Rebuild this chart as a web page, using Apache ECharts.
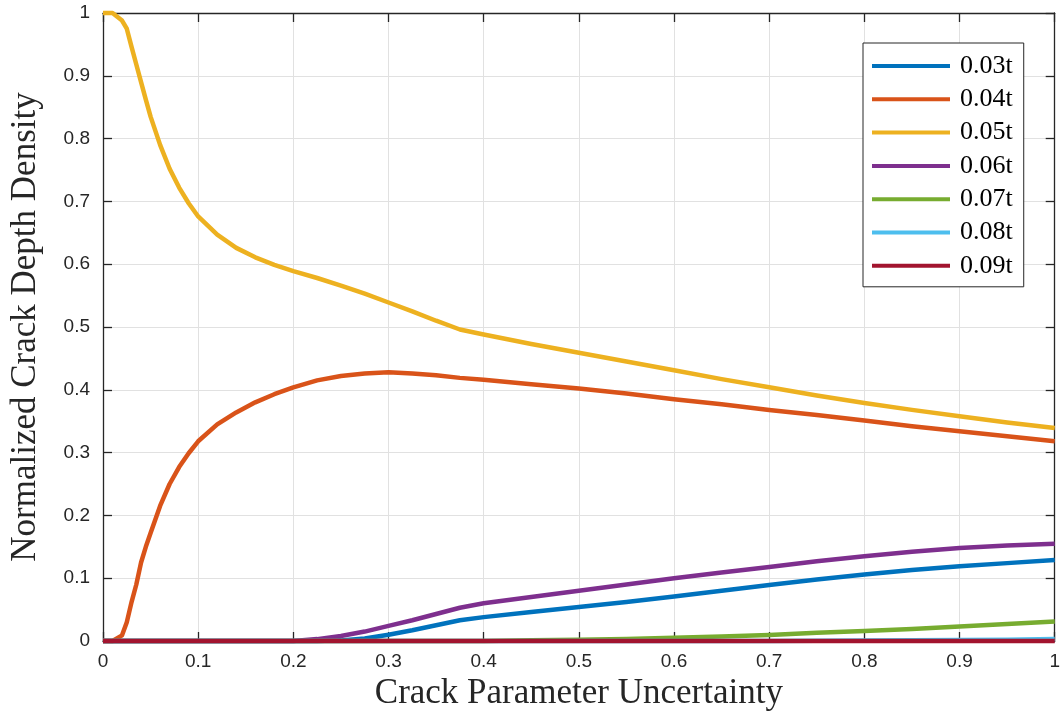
<!DOCTYPE html>
<html>
<head>
<meta charset="utf-8">
<script src="https://cdn.jsdelivr.net/npm/echarts@6/dist/echarts.min.js"></script>
<style>
  html, body { margin: 0; padding: 0; background: #ffffff; }
  #chart { width: 1063px; height: 723px; }
</style>
</head>
<body>
<div id="chart"></div>
<script>
// Crack parameter uncertainty (x) samples
const uncertainty = [0, 0.01, 0.02, 0.025, 0.03, 0.035, 0.04, 0.045, 0.05, 0.06, 0.07, 0.08, 0.09, 0.1,
  0.12, 0.14, 0.16, 0.18, 0.2, 0.225, 0.25, 0.275, 0.3, 0.325, 0.35, 0.375, 0.4, 0.45, 0.5,
  0.55, 0.6, 0.65, 0.7, 0.75, 0.8, 0.85, 0.9, 0.95, 1.0];

// Normalized crack depth density for each crack depth
const depth003 = [0, 0, 0, 0, 0, 0, 0, 0, 0, 0, 0, 0, 0, 0,
  0, 0, 0, 0, 0, 0, 0.001, 0.004, 0.01, 0.017, 0.025, 0.033, 0.038, 0.046, 0.054,
  0.062, 0.071, 0.08, 0.089, 0.098, 0.106, 0.113, 0.119, 0.124, 0.129];
const depth004 = [0, 0, 0.009, 0.03, 0.062, 0.09, 0.125, 0.15, 0.172, 0.215, 0.25, 0.277, 0.299, 0.318,
  0.345, 0.364, 0.38, 0.393, 0.404, 0.415, 0.422, 0.426, 0.428, 0.426, 0.423, 0.419, 0.416, 0.409, 0.402,
  0.394, 0.385, 0.377, 0.368, 0.36, 0.351, 0.342, 0.334, 0.326, 0.318];
const depth005 = [1.0, 1.0, 0.988, 0.975, 0.946, 0.918, 0.89, 0.862, 0.835, 0.79, 0.752, 0.722, 0.697, 0.676,
  0.647, 0.626, 0.611, 0.599, 0.589, 0.578, 0.566, 0.553, 0.539, 0.525, 0.51, 0.496, 0.488, 0.473, 0.459,
  0.445, 0.431, 0.417, 0.404, 0.391, 0.379, 0.368, 0.358, 0.348, 0.339];
const depth006 = [0, 0, 0, 0, 0, 0, 0, 0, 0, 0, 0, 0, 0, 0,
  0, 0, 0, 0, 0, 0.003, 0.008, 0.015, 0.024, 0.033, 0.043, 0.053, 0.06, 0.07, 0.08,
  0.09, 0.1, 0.109, 0.118, 0.127, 0.135, 0.142, 0.148, 0.152, 0.155];
const depth007 = [0, 0, 0, 0, 0, 0, 0, 0, 0, 0, 0, 0, 0, 0,
  0, 0, 0, 0, 0, 0, 0, 0, 0, 0, 0, 0, 0, 0.001, 0.002,
  0.003, 0.005, 0.007, 0.0095, 0.013, 0.016, 0.019, 0.023, 0.027, 0.031];
const depth008 = [0, 0, 0, 0, 0, 0, 0, 0, 0, 0, 0, 0, 0, 0,
  0, 0, 0, 0, 0, 0, 0, 0, 0, 0, 0, 0, 0, 0, 0,
  0, 0, 0, 0, 0.0003, 0.0006, 0.001, 0.0015, 0.002, 0.003];
const depth009 = [0, 0, 0, 0, 0, 0, 0, 0, 0, 0, 0, 0, 0, 0,
  0, 0, 0, 0, 0, 0, 0, 0, 0, 0, 0, 0, 0, 0, 0,
  0, 0, 0, 0, 0, 0, 0, 0, 0, 0];

const seriesNames = ['0.03t', '0.04t', '0.05t', '0.06t', '0.07t', '0.08t', '0.09t'];
const seriesValues = [depth003, depth004, depth005, depth006, depth007, depth008, depth009];
const seriesColors = ['#0072BD', '#D95319', '#EDB120', '#7E2F8E', '#77AC30', '#4DBEEE', '#A2142F'];

const axisColor = '#262626';
const gridColor = '#e1e1e1';
const serif = '"Liberation Serif", "Times New Roman", serif';
const sans = '"Liberation Sans", Arial, sans-serif';

const chart = echarts.init(document.getElementById('chart'), null, { renderer: 'canvas' });

const series = seriesNames.map((name, i) => ({
  name: name,
  type: 'line',
  xAxisIndex: 0,
  yAxisIndex: 0,
  data: uncertainty.map((x, k) => [x, seriesValues[i][k]]),
  symbol: 'none',
  showSymbol: false,
  clip: false,
  lineStyle: { color: seriesColors[i], width: 4.5, join: 'round' },
  itemStyle: { color: seriesColors[i] },
  emphasis: { disabled: true },
  animation: false
}));

const tickLabelFormat = v => (v === 0 || v === 1) ? String(v) : v.toFixed(1);

const boxAxis = {
  min: 0, max: 1, interval: 0.1,
  axisLine: { show: true, onZero: false, lineStyle: { color: axisColor, width: 1.3 } },
  axisTick: { show: true, inside: true, length: 9, lineStyle: { color: axisColor, width: 1.3 } },
  axisLabel: { show: false },
  splitLine: { show: false }
};

const option = {
  backgroundColor: '#ffffff',
  animation: false,
  grid: { left: 101, right: 6, top: 13, bottom: 82, containLabel: false },
  xAxis: [
    {
      type: 'value', position: 'bottom',
      min: 0, max: 1, interval: 0.1,
      name: 'Crack Parameter Uncertainty',
      nameLocation: 'middle',
      nameGap: 19,
      nameTextStyle: { fontFamily: serif, fontSize: 35, color: axisColor, verticalAlign: 'top' },
      axisLine: { show: true, onZero: false, lineStyle: { color: axisColor, width: 1.3 } },
      axisTick: { show: true, inside: true, length: 9, lineStyle: { color: axisColor, width: 1.3 } },
      axisLabel: { fontFamily: sans, fontSize: 19, color: axisColor, margin: 11, formatter: tickLabelFormat },
      splitLine: { show: true, lineStyle: { color: gridColor, width: 1 } }
    },
    Object.assign({ type: 'value', position: 'top' }, boxAxis)
  ],
  yAxis: [
    {
      type: 'value', position: 'left',
      min: 0, max: 1, interval: 0.1,
      name: 'Normalized Crack Depth Density',
      nameLocation: 'middle',
      nameGap: 60,
      nameRotate: 90,
      nameTextStyle: { fontFamily: serif, fontSize: 35, color: axisColor },
      axisLine: { show: true, onZero: false, lineStyle: { color: axisColor, width: 1.3 } },
      axisTick: { show: true, inside: true, length: 9, lineStyle: { color: axisColor, width: 1.3 } },
      axisLabel: { fontFamily: sans, fontSize: 19, color: axisColor, margin: 13, formatter: tickLabelFormat },
      splitLine: { show: true, lineStyle: { color: gridColor, width: 1 } }
    },
    Object.assign({ type: 'value', position: 'right' }, boxAxis)
  ],
  legend: {
    data: seriesNames,
    orient: 'vertical',
    left: 863,
    top: 43,
    padding: [10, 11, 8, 9],
    backgroundColor: '#ffffff',
    borderColor: axisColor,
    borderWidth: 1,
    icon: 'rect',
    itemWidth: 78,
    itemHeight: 4,
    itemGap: 7.3,
    selectedMode: false,
    textStyle: { fontFamily: serif, fontSize: 26, color: '#000000', padding: [0, 0, 0, 5] }
  },
  series: series
};

chart.setOption(option);
</script>
</body>
</html>
